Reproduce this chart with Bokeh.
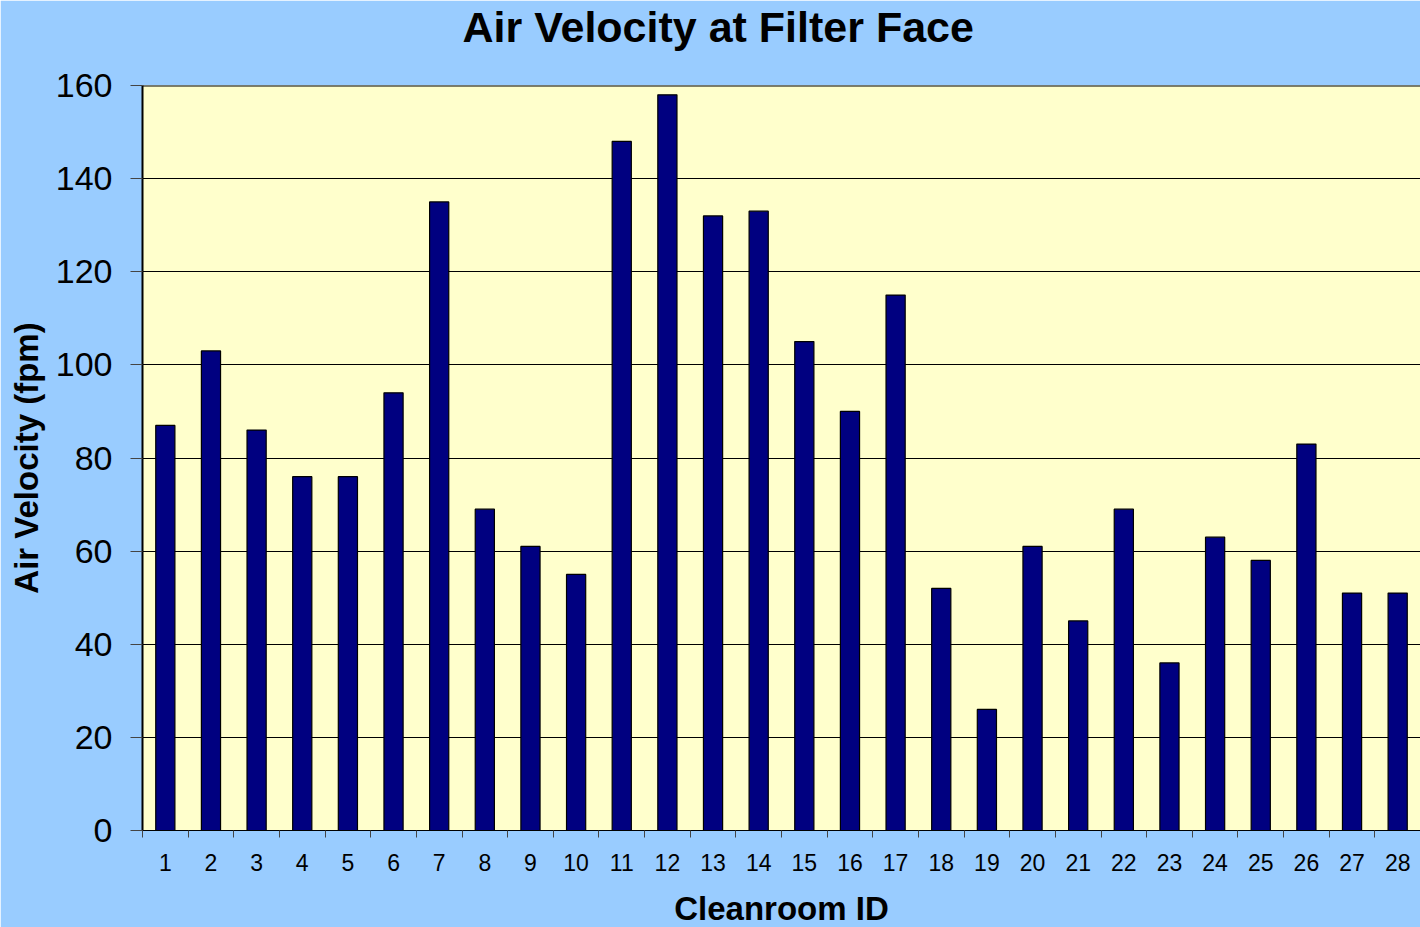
from bokeh.plotting import figure
from bokeh.models import FixedTicker, Range1d, Span, ColumnDataSource, Title
from bokeh.embed import file_html
from bokeh.resources import INLINE

room_ids = [str(i) for i in range(1, 29)]
velocity = [87, 103, 86, 76, 76, 94, 135, 69, 61, 55, 148, 158, 132, 133,
            105, 90, 115, 52, 26, 61, 45, 69, 36, 63, 58, 83, 51, 51]
y_ticks = [0, 20, 40, 60, 80, 100, 120, 140, 160]
title_text = "Air Velocity at Filter Face"
x_title = "Cleanroom ID"
y_title = "Air Velocity (fpm)"

centers = [i + 0.5 for i in range(len(room_ids))]
bounds = list(range(len(room_ids) + 1))

src = ColumnDataSource(dict(x=centers, top=velocity, label=room_ids))

FONT = "Liberation Sans"

p = figure(width=1420, height=927, output_backend="svg", toolbar_location=None,
           x_range=Range1d(0, len(room_ids)), y_range=Range1d(0, 160),
           min_border_left=142, min_border_right=0, min_border_top=85,
           min_border_bottom=97)

p.background_fill_color = "#FFFFCC"
p.border_fill_color = "#99CCFF"
p.outline_line_color = None

p.vbar(x="x", top="top", width=0.42, bottom=0, source=src,
       fill_color="#000080", line_color="black", line_width=1.2)

# real title (stacked farthest from the frame)
p.title.text = title_text
p.title.text_font = FONT
p.title.text_font_size = "43px"
p.title.text_font_style = "bold"
p.title.text_color = "black"
p.title.align = "left"
p.title.offset = 320
p.title.standoff = -2

# invisible spacer between frame and title
p.add_layout(Title(text=" ", text_font_size="10px", standoff=23), "above")

# x axis title as a second title below the axis
p.add_layout(Title(text=x_title, text_font=FONT, text_font_size="33px",
                   text_font_style="bold", text_color="black",
                   align="center", vertical_align="top", standoff=-8), "below")

# x axis
xa = p.xaxis[0]
xa.ticker = FixedTicker(ticks=centers, minor_ticks=bounds)
xa.major_label_overrides = {c: l for c, l in zip(centers, room_ids)}
xa.major_tick_out = 0
xa.major_tick_in = 0
xa.minor_tick_out = 7
xa.minor_tick_in = 0
xa.minor_tick_line_color = "#444444"
xa.axis_line_color = "black"
xa.axis_line_width = 1
xa.major_label_text_font = FONT
xa.major_label_text_font_size = "23px"
xa.major_label_text_color = "black"
xa.major_label_standoff = 16
# invisible spacer label to push the x title down
xa.axis_label = " "
xa.axis_label_text_font_size = "15px"
xa.axis_label_standoff = 0

# y axis
ya = p.yaxis[0]
ya.ticker = FixedTicker(ticks=y_ticks)
ya.major_tick_out = 12
ya.major_tick_in = 0
ya.minor_tick_line_color = None
ya.major_tick_line_color = "#444444"
ya.axis_line_color = "black"
ya.axis_line_width = 2
ya.major_label_text_font = FONT
ya.major_label_text_font_size = "34px"
ya.major_label_text_color = "black"
ya.major_label_standoff = 18
ya.axis_label = y_title
ya.axis_label_text_font = FONT
ya.axis_label_text_font_size = "33px"
ya.axis_label_text_font_style = "bold"
ya.axis_label_text_color = "black"
ya.axis_label_standoff = 8

p.xgrid.visible = False
p.ygrid.ticker = FixedTicker(ticks=y_ticks)
p.ygrid.grid_line_color = "black"
p.ygrid.grid_line_width = 1

p.add_layout(Span(location=160, dimension="width", line_color="black", line_width=2))

open("out.html", "w").write(file_html(p, INLINE))
